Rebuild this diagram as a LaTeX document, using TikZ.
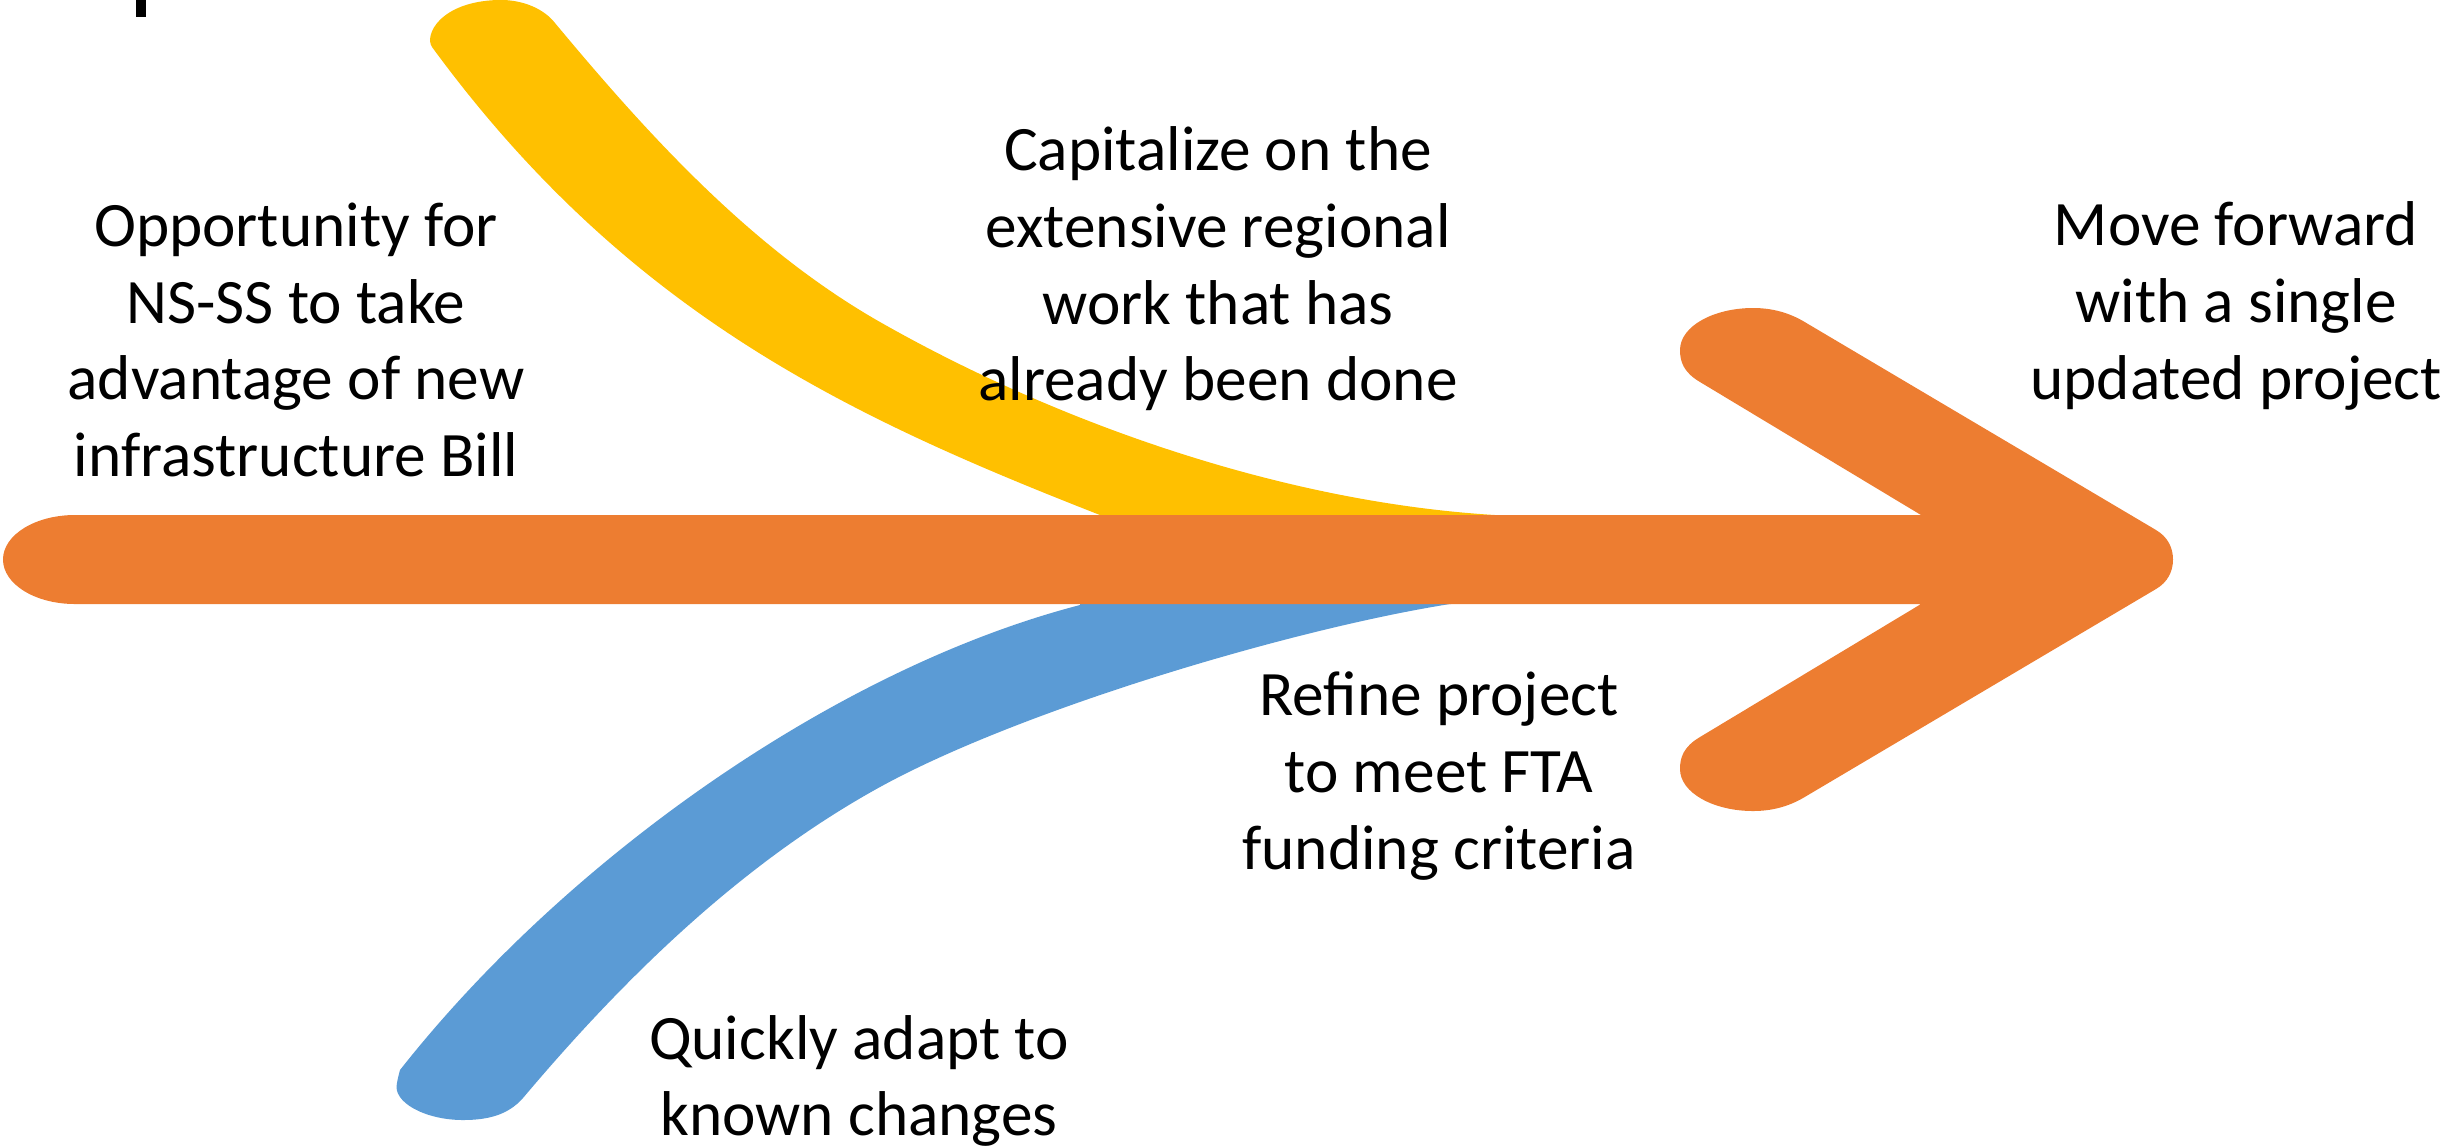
\documentclass[tikz,border=0pt]{standalone}
\usepackage{fontspec}
\setmainfont{Carlito}
\definecolor{orangeC}{HTML}{ED7D31}
\definecolor{yellowC}{HTML}{FFC000}
\definecolor{blueC}{HTML}{5B9BD5}
\begin{document}
\begin{tikzpicture}[x=0.01cm,y=-0.01cm,
  lbl/.style={align=center,inner sep=0pt,font=\fontsize{18}{21.8}\selectfont}]
\useasboundingbox (0,0) rectangle (2448,1147);
% partial glyph at top-left
\fill[black] (136,0) rectangle (146,17);
% yellow band
\fill[yellowC] (432,47) .. controls (424,35) and (440,2) .. (497,0)
  .. controls (524,-1) and (545,10) .. (555,23)
  .. controls (649,136) and (752,249) .. (880,322)
  .. controls (1054,421) and (1280,502) .. (1495,515)
  -- (1900,525) -- (1900,560) -- (1100,560) -- (1100,515)
  .. controls (847,416) and (627,313) .. (432,47)
  -- cycle;
% blue band
\fill[blueC] (400,1070)
  .. controls (567,858) and (837,668) .. (1080,605)
  -- (1080,560) -- (1900,560) -- (1900,595) -- (1450,604)
  .. controls (1292,629) and (1020,710) .. (880,787)
  .. controls (742,863) and (625,977) .. (523,1098)
  .. controls (508,1115) and (488,1120) .. (463,1120)
  .. controls (425,1120) and (392,1102) .. (397,1083)
  .. controls (398,1077) and (399,1074) .. (400,1070) -- cycle;
% orange arrow
\fill[orangeC] (75,515) -- (1921,515) -- (1700,382)
  .. controls (1683,372) and (1680,361) .. (1680,350)
  .. controls (1680,326) and (1714,308) .. (1753,308)
  .. controls (1773,308) and (1789,313) .. (1803,321)
  -- (2156,530)
  .. controls (2168,537) and (2173,548) .. (2173,559.5)
  .. controls (2173,571) and (2168,582) .. (2156,589)
  -- (1803,798)
  .. controls (1789,806) and (1773,811) .. (1753,811)
  .. controls (1714,811) and (1680,793) .. (1680,769)
  .. controls (1680,758) and (1683,747) .. (1700,737)
  -- (1921,604) -- (75,604)
  .. controls (35,604) and (3,584) .. (3,559.5)
  .. controls (3,535) and (35,515) .. (75,515) -- cycle;
% labels
\node[lbl] (t1) at (296,340) {Opportunity for\\NS-SS to take\\advantage of new\\infrastructure Bill};
\node[lbl] (t2) at (1218,269) {Capitalize on the\\extensive regional\\work that has\\already been done};
\node[lbl] (t3) at (2236,306) {Move forward\\with a single\\updated project};
\node[lbl] (t4) at (1439,776) {Refine project\\to meet FTA\\funding criteria};
\node[lbl] (t5) at (859,1081) {Quickly adapt to\\known changes};
\end{tikzpicture}
\end{document}
